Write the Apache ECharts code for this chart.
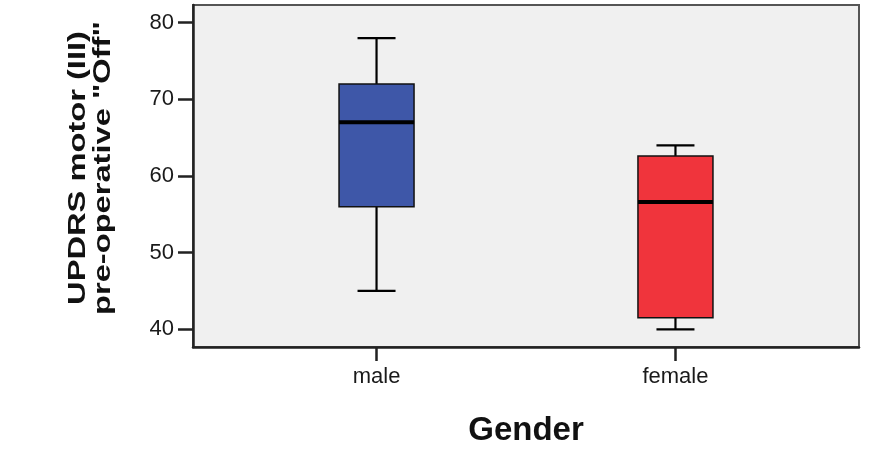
<!DOCTYPE html>
<html>
<head>
<meta charset="utf-8">
<script src="https://cdn.jsdelivr.net/npm/echarts@6/dist/echarts.min.js"></script>
<style>html,body{margin:0;padding:0;background:#fff;}#c{width:871px;height:474px;}</style>
</head>
<body>
<div id="c"></div>
<script>
var categories = ['male', 'female'];
var whiskerLow = [45, 40];
var quartile1 = [56, 41.5];
var medians = [67, 56.6];
var quartile3 = [72, 62.6];
var whiskerHigh = [78, 64];
var boxColors = ['#3e57a8', '#f0343c'];
var yTicks = [40, 50, 60, 70, 80];

var chart = echarts.init(document.getElementById('c'));
var data = categories.map(function (c, i) {
  return [i, whiskerLow[i], quartile1[i], medians[i], quartile3[i], whiskerHigh[i]];
});

function renderItem(params, api) {
  var x = api.value(0);
  var idx = params.dataIndex;
  var pLow = api.coord([x, api.value(1)]);
  var pQ1 = api.coord([x, api.value(2)]);
  var pMed = api.coord([x, api.value(3)]);
  var pQ3 = api.coord([x, api.value(4)]);
  var pHigh = api.coord([x, api.value(5)]);
  var cx = pMed[0];
  var bw = 75, cw = 38;
  var line = {stroke: '#000', lineWidth: 2.2};
  return {
    type: 'group',
    children: [
      {type: 'line', shape: {x1: cx, y1: pHigh[1], x2: cx, y2: pQ3[1]}, style: line},
      {type: 'line', shape: {x1: cx, y1: pQ1[1], x2: cx, y2: pLow[1]}, style: line},
      {type: 'line', shape: {x1: cx - cw / 2, y1: pHigh[1], x2: cx + cw / 2, y2: pHigh[1]}, style: line},
      {type: 'line', shape: {x1: cx - cw / 2, y1: pLow[1], x2: cx + cw / 2, y2: pLow[1]}, style: line},
      {type: 'rect', shape: {x: cx - bw / 2, y: pQ3[1], width: bw, height: pQ1[1] - pQ3[1]},
        style: {fill: boxColors[idx], stroke: '#111', lineWidth: 1.5}},
      {type: 'line', shape: {x1: cx - bw / 2, y1: pMed[1], x2: cx + bw / 2, y2: pMed[1]},
        style: {stroke: '#000', lineWidth: 4}}
    ]
  };
}

chart.setOption({
  animation: false,
  grid: {left: 193, right: 12, top: 5, bottom: 127, show: true,
    backgroundColor: '#f0f0f0', borderColor: '#555', borderWidth: 2},
  xAxis: {
    type: 'value', min: -0.614, max: 1.614,
    splitLine: {show: false},
    axisLine: {show: true, onZero: false, lineStyle: {color: '#222', width: 2.5}},
    axisTick: {show: true, length: 14, customValues: [0, 1], lineStyle: {color: '#222', width: 2.5}},
    axisLabel: {customValues: [0, 1], margin: 19, fontSize: 22, color: '#1a1a1a',
      fontFamily: 'Liberation Sans, Arial, sans-serif',
      formatter: function (v) { return categories[Math.round(v)]; }},
    name: 'Gender', nameLocation: 'middle', nameGap: 67,
    nameTextStyle: {fontSize: 33, fontWeight: 'bold', color: '#111', fontFamily: 'Liberation Sans, Arial, sans-serif'}
  },
  yAxis: {
    type: 'value', min: 37.69, max: 82.31,
    splitLine: {show: false},
    axisLine: {show: true, onZero: false, lineStyle: {color: '#222', width: 2.5}},
    axisTick: {show: true, length: 15, customValues: yTicks, lineStyle: {color: '#222', width: 2.5}},
    axisLabel: {customValues: yTicks, margin: 19, fontSize: 22, color: '#1a1a1a',
      fontFamily: 'Liberation Sans, Arial, sans-serif'}
  },
  graphic: [{
    type: 'text', x: 91, y: 168, rotation: Math.PI / 2, scaleX: 1.36, scaleY: 1,
    style: {text: 'UPDRS motor (III)\npre-operative "Off"', fill: '#111',
      font: 'bold 24px "Liberation Sans", Arial, sans-serif', align: 'center',
      verticalAlign: 'middle', lineHeight: 25}
  }],
  series: [{
    type: 'custom', renderItem: renderItem, data: data,
    encode: {x: 0, y: [1, 2, 3, 4, 5]}
  }]
});
</script>
</body>
</html>
